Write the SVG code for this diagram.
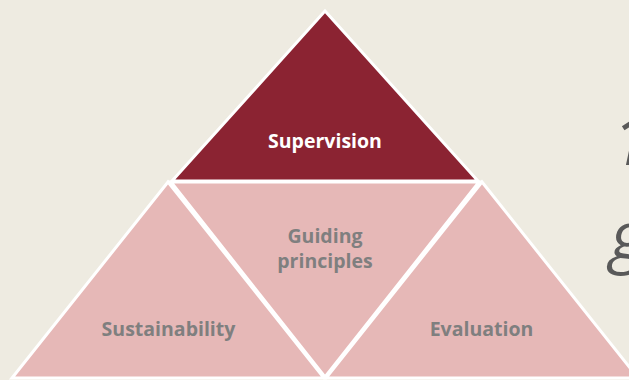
<svg xmlns="http://www.w3.org/2000/svg" width="629" height="380" viewBox="0 0 629 380">
<style>
.tri{stroke:#FFFFFF;stroke-width:3;stroke-linejoin:miter}
.top{fill:#8B2332}
.pink{fill:#E6B8B7}
.lbl{font-family:"Open Sans","Liberation Sans",sans-serif;font-weight:bold;font-size:19.5px;text-anchor:middle}
.w{fill:#FFFFFF}
.g{fill:#7F7F7F}
.big{font-family:"Open Sans","Liberation Sans",sans-serif;font-style:italic;font-size:68px;fill:#595959}
</style>
<rect x="0" y="0" width="629" height="380" fill="#EEEBE1"/>
<g id="connectors"></g>
<g id="supervision">
<polygon class="tri top" points="325,11 172,181 478,181"/>
<text class="lbl w" x="325" y="148">Supervision</text>
</g>
<g id="sustainability">
<polygon class="tri pink" points="168,182 12,378 324,378"/>
<text class="lbl g" x="168.5" y="336">Sustainability</text>
</g>
<g id="guiding-principles">
<polygon class="tri pink" points="171,182 479,182 325,377"/>
<text class="lbl g" x="325" y="243">Guiding</text>
<text class="lbl g" x="325" y="268">principles</text>
</g>
<g id="evaluation">
<polygon class="tri pink" points="482,182 326,378 638,378"/>
<text class="lbl g" x="481.5" y="336">Evaluation</text>
</g>
<g id="side-text">
<text class="big" x="612" y="165">1</text>
<text class="big" x="610" y="260">g</text>
</g>
</svg>
